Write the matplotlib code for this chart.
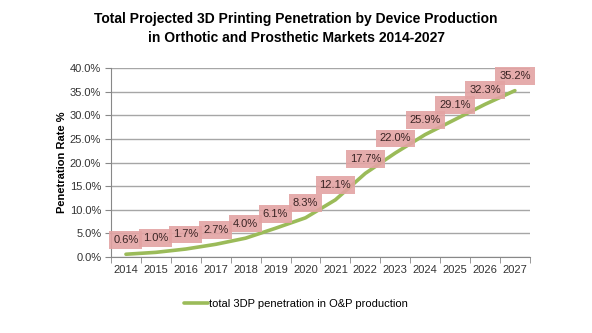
import matplotlib.pyplot as plt
from matplotlib.ticker import FuncFormatter, MultipleLocator, FixedLocator

plt.rcParams['font.family'] = ['Liberation Sans', 'DejaVu Sans']

years = ['2014', '2015', '2016', '2017', '2018', '2019', '2020',
         '2021', '2022', '2023', '2024', '2025', '2026', '2027']
penetration = [0.6, 1.0, 1.7, 2.7, 4.0, 6.1, 8.3,
               12.1, 17.7, 22.0, 25.9, 29.1, 32.3, 35.2]
series_name = 'total 3DP penetration in O&P production'

fig = plt.figure(figsize=(5.92, 3.33), dpi=100)
ax = fig.add_axes([0.1875, 0.228, 0.7075, 0.568])

x = list(range(len(years)))
ax.plot(x, penetration, color='#9bbb59', lw=2.6, solid_capstyle='round',
        label=series_name, zorder=3)

for xi, v in zip(x, penetration):
    ax.annotate(f'{v:.1f}%', (xi, v), xytext=(0, 10.5), textcoords='offset points',
                ha='center', va='center', fontsize=8, color='#3a2424', zorder=4,
                bbox=dict(boxstyle='square,pad=0.35', fc='#e3a3a3', ec='none', alpha=0.9))

ax.set_xlim(-0.5, 13.5)
ax.set_ylim(0, 40)
ax.yaxis.set_major_locator(MultipleLocator(5))
ax.yaxis.set_major_formatter(FuncFormatter(lambda v, p: f'{v:.1f}%'))
ax.set_xticks(x)
ax.set_xticklabels(years)
ax.xaxis.set_minor_locator(FixedLocator([i - 0.5 for i in range(15)]))
ax.tick_params(axis='x', which='major', length=0, labelsize=8, pad=6, colors='#333333')
ax.tick_params(axis='x', which='minor', length=4, color='#888888')
ax.tick_params(axis='y', length=4, labelsize=8, color='#888888', labelcolor='#333333', pad=3)

ax.grid(axis='y', color='#a6a6a6', lw=1)
ax.set_axisbelow(True)
for s in ['top', 'right']:
    ax.spines[s].set_visible(False)
ax.spines['left'].set_color('#888888')
ax.spines['bottom'].set_color('#888888')

ax.set_ylabel('Penetration Rate %', fontsize=8, fontweight='bold', labelpad=2)
fig.suptitle('Total Projected 3D Printing Penetration by Device Production\n'
             'in Orthotic and Prosthetic Markets 2014-2027',
             fontsize=10, fontweight='bold', y=0.965, x=0.5, linespacing=1.45)

fig.legend(loc='center', bbox_to_anchor=(0.5, 0.088), frameon=False, fontsize=8,
           handlelength=2.2, handletextpad=0.1)

plt.savefig('out.png', dpi=100)
